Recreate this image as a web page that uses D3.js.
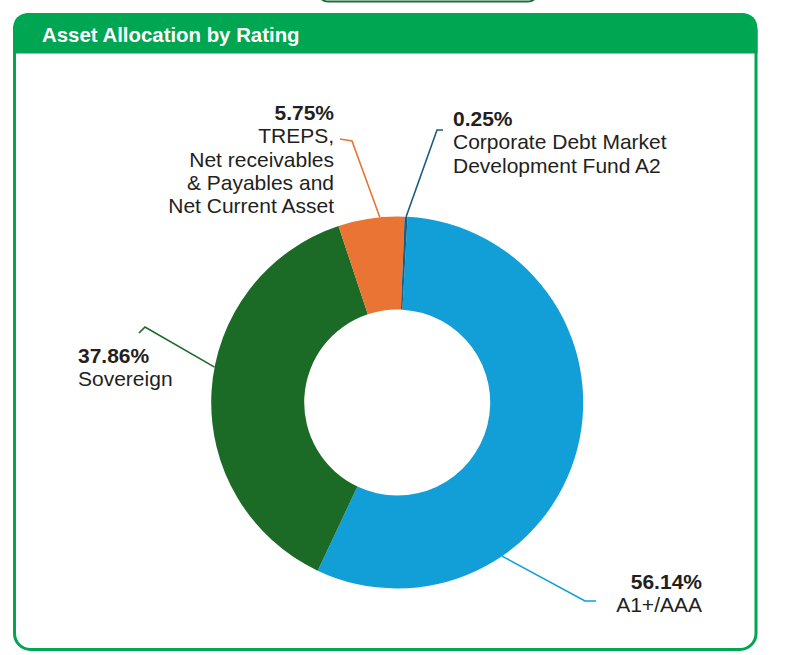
<!DOCTYPE html>
<html>
<head>
<meta charset="utf-8">
<script src="https://cdn.jsdelivr.net/npm/d3@7"></script>
<style>
  body { margin: 0; background: #fff; }
  svg { display: block; }
  .lbl { font-family: "Liberation Sans", Arial, sans-serif; font-size: 21px; fill: #231f20; }
  .pct { font-weight: bold; }
</style>
</head>
<body>
<div id="chart"></div>
<script>
// Data
const categories = ["A1+/AAA", "Sovereign", "TREPS, Net receivables & Payables and Net Current Asset", "Corporate Debt Market Development Fund A2"];
const values = [56.14, 37.86, 5.75, 0.25];
const colors = ["#129fd8", "#1b6a25", "#e97433", "#1a5d7e"];
const labelLines = [
  ["A1+/AAA"],
  ["Sovereign"],
  ["TREPS,", "Net receivables", "& Payables and", "Net Current Asset"],
  ["Corporate Debt Market", "Development Fund A2"]
];

const W = 786, H = 655;
const cx = 397.2, cy = 402.5, rOuter = 186, rInner = 93;
const startDeg = 3.2;

// label layout: where the leader leaves the slice (fraction of slice), elbow, end, text anchor
const layout = [
  { t: 0.705, elbow: [585, 601], end: [596, 601], tx: 702, ty: 589, anchor: "end" },
  { t: 0.555, elbow: [145, 327], end: [139, 333], tx: 78, ty: 363, anchor: "start" },
  { t: 0.63,  elbow: [352, 141], end: [340, 139], tx: 334, ty: 120, anchor: "end" },
  { t: 0.5,   elbow: [437, 130], end: [443, 130], tx: 453, ty: 126, anchor: "start" }
];

const svg = d3.select("#chart").append("svg")
  .attr("width", W)
  .attr("height", H);

// top tab (bottom of the box above)
svg.append("rect")
  .attr("x", 318).attr("y", -30)
  .attr("width", 220).attr("height", 31.5)
  .attr("rx", 10)
  .attr("fill", "#fff")
  .attr("stroke", "#1d6f3b")
  .attr("stroke-width", 2);

// card
svg.append("rect")
  .attr("x", 14.5).attr("y", 14.5)
  .attr("width", 741.5).attr("height", 635)
  .attr("rx", 16)
  .attr("fill", "#fff")
  .attr("stroke", "#00a651")
  .attr("stroke-width", 3);

// header band with rounded top corners
const hx0 = 13, hx1 = 757.5, hy0 = 13, hy1 = 53.5, hr = 17;
svg.append("path")
  .attr("d", `M${hx0},${hy1} L${hx0},${hy0 + hr} Q${hx0},${hy0} ${hx0 + hr},${hy0} L${hx1 - hr},${hy0} Q${hx1},${hy0} ${hx1},${hy0 + hr} L${hx1},${hy1} Z`)
  .attr("fill", "#00a651");

svg.append("text")
  .attr("class", "lbl")
  .attr("x", 42).attr("y", 42)
  .style("font-weight", "bold")
  .style("font-size", "20.4px")
  .style("fill", "#fff")
  .text("Asset Allocation by Rating");

// donut
const data = categories.map((c, i) => ({ name: c, value: values[i], color: colors[i], lines: labelLines[i], lay: layout[i] }));

const pie = d3.pie()
  .sort(null)
  .value(d => d.value)
  .startAngle(startDeg * Math.PI / 180)
  .endAngle(startDeg * Math.PI / 180 + 2 * Math.PI);

const arc = d3.arc().innerRadius(rInner).outerRadius(rOuter);
const arcs = pie(data);

const g = svg.append("g").attr("transform", `translate(${cx},${cy})`);

g.selectAll("path.slice")
  .data(arcs)
  .enter().append("path")
  .attr("class", "slice")
  .attr("d", arc)
  .attr("fill", d => d.data.color);

// leader lines and labels
arcs.forEach(a => {
  const L = a.data.lay;
  const ang = a.startAngle + (a.endAngle - a.startAngle) * L.t;
  const sx = cx + rOuter * Math.sin(ang);
  const sy = cy - rOuter * Math.cos(ang);
  svg.append("polyline")
    .attr("points", [[sx, sy], L.elbow, L.end].map(p => p.join(",")).join(" "))
    .attr("fill", "none")
    .attr("stroke", a.data.color)
    .attr("stroke-width", 1.6);

  const txt = svg.append("text")
    .attr("class", "lbl")
    .attr("text-anchor", L.anchor);
  txt.append("tspan")
    .attr("class", "pct")
    .attr("x", L.tx).attr("y", L.ty)
    .text(d3.format(".2f")(a.data.value) + "%");
  a.data.lines.forEach((ln, k) => {
    txt.append("tspan")
      .attr("x", L.tx)
      .attr("y", L.ty + (k + 1) * 23.3)
      .text(ln);
  });
});
</script>
</body>
</html>
